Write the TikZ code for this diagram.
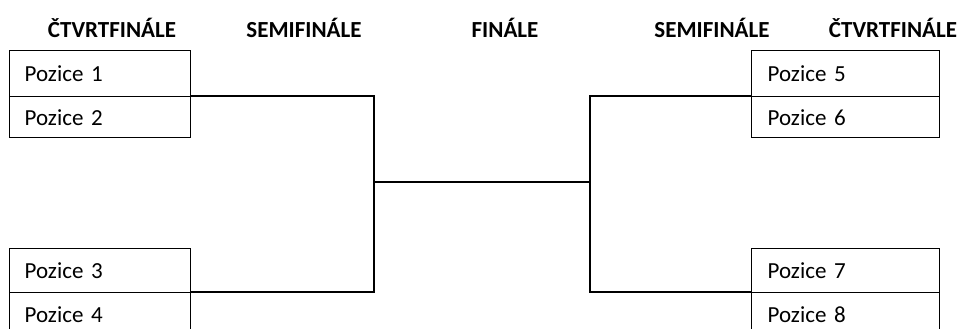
\documentclass[tikz,border=0pt]{standalone}
\usepackage{fontspec}
\setmainfont{Carlito}
\usepackage{tikz}
\usetikzlibrary{positioning,calc}

\begin{document}
\begin{tikzpicture}[
    x=1pt,y=1pt,
    line/.style={draw=black, line width=1.4pt},
    head/.style={font=\fontsize{23}{26}\selectfont\bfseries, text=black},
    slotL/.style={
        draw=black, line width=1.4pt,
        anchor=north west, inner ysep=0pt, inner xsep=15pt,
        text width=151pt, align=left,
        font=\fontsize{23}{26}\selectfont
    },
    slotR/.style={
        slotL, text width=156pt, inner xsep=16pt
    }
]

% ===== bracket geometry =====
\def\xL{9}    \def\xR{751}
\def\xSL{374} \def\xSR{590}
\def\yHead{-28}
\def\yMid{-182}

\useasboundingbox (0,0) rectangle (961,-329);

% ===== column titles =====
\node[head] (hQL) at (112,\yHead) {ČTVRTFINÁLE};
\node[head] (hSL) at (304,\yHead) {SEMIFINÁLE};
\node[head] (hF)  at (505,\yHead) {FINÁLE};
\node[head] (hSR) at (712,\yHead) {SEMIFINÁLE};
\node[head] (hQR) at (893,\yHead) {ČTVRTFINÁLE};

% ===== left quarter-final slots =====
\node[slotL, minimum height=46pt] (p1) at (\xL,-50)  {Pozice 1};
\node[slotL, minimum height=41pt] (p2) at (\xL,-96)  {Pozice 2};
\node[slotL, minimum height=44pt] (p3) at (\xL,-248) {Pozice 3};
\node[slotL, minimum height=44pt] (p4) at (\xL,-292) {Pozice 4};

% ===== right quarter-final slots =====
\node[slotR, minimum height=46pt] (p5) at (\xR,-50)  {Pozice 5};
\node[slotR, minimum height=41pt] (p6) at (\xR,-96)  {Pozice 6};
\node[slotR, minimum height=44pt] (p7) at (\xR,-248) {Pozice 7};
\node[slotR, minimum height=44pt] (p8) at (\xR,-292) {Pozice 8};

% semi-final junctions
\coordinate (sfL) at (\xSL,\yMid);
\coordinate (sfR) at (\xSR,\yMid);

% ===== bracket lines =====
\draw[line] (p2.north east) -| (sfL) |- (p4.north east);
\draw[line] (p6.north west) -| (sfR) |- (p8.north west);

% final
\draw[line] (sfL) -- (sfR);
\end{tikzpicture}
\end{document}
